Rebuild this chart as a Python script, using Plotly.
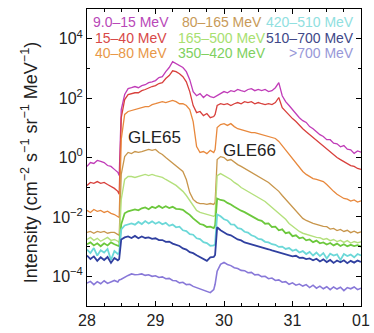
import plotly.graph_objects as go

# time in days (Oct 28 .. Nov 1, 2003)
t = [28.00, 28.05, 28.10, 28.15, 28.20, 28.25, 28.30, 28.35, 28.40, 28.45, 28.47,
     28.50, 28.55, 28.60, 28.65, 28.70, 28.75, 28.80, 28.85, 28.90, 28.95,
     29.00, 29.05, 29.10, 29.15, 29.20, 29.25, 29.30, 29.35, 29.40, 29.45,
     29.50, 29.55, 29.60, 29.65, 29.70, 29.75, 29.80, 29.85, 29.87,
     29.90, 29.95, 30.00, 30.05, 30.10, 30.15, 30.20, 30.25, 30.30, 30.35,
     30.40, 30.45, 30.50, 30.55, 30.60, 30.65, 30.70, 30.75, 30.80, 30.85,
     30.90, 30.95, 31.00, 31.05, 31.10, 31.15, 31.20, 31.25, 31.30, 31.35,
     31.40, 31.45, 31.50, 31.55, 31.60, 31.65, 31.70, 31.75, 31.80, 31.85,
     31.90, 31.95, 32.00]

# log10 of intensity (cm^-2 s^-1 sr^-1 MeV^-1)
log_9_15 = [-0.30, -0.17, -0.20, -0.10, -0.13, -0.17, -0.27, -0.30, -0.40, -0.50, -0.61,
            1.61, 2.12, 2.32, 2.35, 2.39, 2.35, 2.42, 2.45, 2.52, 2.55,
            2.59, 2.69, 2.72, 2.89, 3.03, 3.23, 3.16, 3.09, 3.03, 2.89,
            2.62, 2.22, 2.08, 2.15, 2.02, 2.12, 2.05, 2.02, 2.05,
            2.08, 2.15, 2.22, 2.18, 2.25, 2.22, 2.29, 2.25, 2.22, 2.29,
            2.32, 2.25, 2.29, 2.25, 2.29, 2.22, 2.25, 2.35, 2.52, 2.08,
            1.88, 1.75, 1.61, 1.48, 1.34, 1.24, 1.18, 1.04, 0.97, 0.87,
            0.77, 0.71, 0.60, 0.60, 0.48, 0.46, 0.36, 0.40, 0.28, 0.26,
            0.14, 0.22, 0.18]
log_15_40 = [-0.94, -0.84, -0.87, -0.81, -0.87, -0.84, -0.91, -0.97, -1.04, -1.14, -1.24,
             1.34, 1.95, 2.12, 2.15, 2.18, 2.18, 2.25, 2.29, 2.35, 2.39,
             2.42, 2.49, 2.52, 2.66, 2.76, 2.92, 2.89, 2.82, 2.72, 2.55,
             2.22, 1.75, 1.51, 1.55, 1.41, 1.48, 1.34, 1.38, 1.45,
             1.75, 1.81, 1.78, 1.81, 1.75, 1.81, 1.85, 1.81, 1.88, 1.85,
             1.88, 1.81, 1.85, 1.81, 1.78, 1.81, 1.78, 1.85, 2.02, 1.68,
             1.55, 1.41, 1.31, 1.21, 1.08, 0.97, 0.87, 0.77, 0.67, 0.57,
             0.47, 0.37, 0.27, 0.17, 0.07, 0.00, -0.07, -0.13, -0.20, -0.27,
             -0.30, -0.37, -0.40]
log_40_80 = [-1.78, -1.85, -1.75, -1.81, -1.78, -1.85, -1.81, -1.88, -1.92, -1.98, -2.02,
             0.61, 1.45, 1.55, 1.58, 1.61, 1.65, 1.68, 1.71, 1.71, 1.78,
             1.81, 1.85, 1.88, 1.85, 1.88, 1.92, 1.88, 1.81, 1.81, 1.75,
             1.61, 1.21, 0.37, 0.17, 0.20, 0.13, 0.24, 0.17, 0.27,
             1.01, 1.11, 1.14, 1.08, 1.14, 1.04, 0.97, 0.94, 0.91, 0.87,
             0.84, 0.84, 0.81, 0.77, 0.74, 0.71, 0.67, 0.64, 0.54, 0.40,
             0.24, 0.10, -0.03, -0.17, -0.34, -0.47, -0.57, -0.64, -0.71, -0.74,
             -0.77, -0.81, -0.91, -1.04, -1.14, -1.24, -1.31, -1.38, -1.40, -1.47,
             -1.43, -1.50, -1.46]
log_80_165 = [-2.52, -2.49, -2.55, -2.49, -2.52, -2.49, -2.55, -2.52, -2.52, -2.59, -2.62,
              -0.57, 0.03, 0.17, 0.13, 0.20, 0.17, 0.20, 0.24, 0.27, 0.24,
              0.27, 0.17, 0.10, 0.00, -0.10, -0.17, -0.27, -0.37, -0.47, -0.74,
              -1.18, -1.41, -1.51, -1.55, -1.55, -1.58, -1.55, -1.58, -1.51,
              -0.07, 0.03, 0.00, -0.10, -0.07, -0.17, -0.24, -0.30, -0.37, -0.44,
              -0.50, -0.57, -0.64, -0.71, -0.77, -0.84, -0.94, -1.04, -1.14, -1.28,
              -1.41, -1.55, -1.68, -1.81, -1.95, -2.05, -2.12, -2.18, -2.22, -2.25,
              -2.29, -2.32, -2.33, -2.41, -2.39, -2.46, -2.42, -2.49, -2.45, -2.53,
              -2.48, -2.54, -2.50]
log_165_500 = [-2.76, -2.69, -2.79, -2.72, -2.82, -2.76, -2.69, -2.79, -2.76, -2.82, -2.86,
               -1.41, -0.74, -0.64, -0.64, -0.67, -0.64, -0.61, -0.57, -0.61, -0.57,
               -0.61, -0.64, -0.67, -0.74, -0.81, -0.87, -0.94, -1.04, -1.14, -1.28,
               -1.45, -1.65, -1.78, -1.85, -1.88, -1.92, -1.95, -1.98, -1.95,
               -0.61, -0.54, -0.61, -0.67, -0.74, -0.84, -0.91, -1.01, -1.08, -1.14,
               -1.21, -1.28, -1.34, -1.41, -1.48, -1.58, -1.68, -1.78, -1.88, -1.98,
               -2.08, -2.22, -2.32, -2.42, -2.49, -2.55, -2.59, -2.62, -2.66, -2.69,
               -2.70, -2.76, -2.73, -2.80, -2.76, -2.83, -2.79, -2.86, -2.80, -2.88,
               -2.83, -2.87, -2.84]
log_350_420 = [-2.92, -2.86, -2.96, -2.89, -2.99, -2.89, -2.96, -2.86, -2.92, -2.96, -2.99,
               -2.25, -1.88, -1.81, -1.78, -1.75, -1.78, -1.71, -1.68, -1.74, -1.66,
               -1.70, -1.63, -1.70, -1.64, -1.70, -1.66, -1.73, -1.74, -1.76, -1.85,
               -1.93, -2.05, -2.14, -2.24, -2.27, -2.34, -2.33, -2.38, -2.29,
               -1.38, -1.43, -1.45, -1.53, -1.58, -1.66, -1.73, -1.79, -1.84, -1.90,
               -1.98, -2.03, -2.10, -2.13, -2.23, -2.22, -2.34, -2.33, -2.45, -2.42,
               -2.55, -2.52, -2.65, -2.62, -2.72, -2.69, -2.79, -2.76, -2.85, -2.80,
               -2.89, -2.86, -2.93, -2.88, -2.96, -2.90, -2.98, -2.92, -2.99, -2.94,
               -2.98, -2.95, -3.00]
log_420_510 = [-3.10, -3.22, -3.05, -3.30, -3.12, -3.20, -3.08, -3.45, -3.15, -3.25, -3.20,
               -2.42, -2.29, -2.25, -2.22, -2.26, -2.17, -2.24, -2.14, -2.22, -2.15,
               -2.23, -2.17, -2.25, -2.20, -2.30, -2.26, -2.35, -2.33, -2.45, -2.48,
               -2.58, -2.60, -2.72, -2.75, -2.85, -2.88, -2.97, -2.96, -2.92,
               -1.92, -1.98, -2.08, -2.12, -2.25, -2.26, -2.38, -2.40, -2.50, -2.53,
               -2.62, -2.66, -2.74, -2.76, -2.84, -2.86, -2.92, -2.94, -3.01, -3.00,
               -3.08, -3.05, -3.14, -3.10, -3.20, -3.15, -3.25, -3.18, -3.30, -3.20,
               -3.32, -3.22, -3.40, -3.24, -3.30, -3.26, -3.45, -3.25, -3.32, -3.27,
               -3.36, -3.25, -3.30]
log_510_700 = [-3.30, -3.42, -3.33, -3.48, -3.36, -3.45, -3.35, -3.55, -3.38, -3.46, -3.42,
               -2.76, -2.69, -2.66, -2.71, -2.64, -2.72, -2.66, -2.71, -2.69, -2.74,
               -2.72, -2.78, -2.78, -2.84, -2.83, -2.90, -2.94, -2.98, -3.06, -3.10,
               -3.19, -3.22, -3.29, -3.35, -3.43, -3.48, -3.36, -3.35, -3.28,
               -2.35, -2.45, -2.52, -2.59, -2.62, -2.69, -2.76, -2.79, -2.86, -2.89,
               -2.92, -2.96, -2.99, -3.03, -3.06, -3.09, -3.13, -3.16, -3.19, -3.23,
               -3.26, -3.29, -3.33, -3.31, -3.38, -3.37, -3.42, -3.40, -3.46, -3.41,
               -3.50, -3.43, -3.52, -3.45, -3.55, -3.47, -3.53, -3.46, -3.56, -3.48,
               -3.54, -3.47, -3.52]
log_700 = [-4.23, -4.17, -4.28, -4.18, -4.25, -4.15, -4.24, -4.19, -4.14, -4.19, -4.12,
           -4.10, -4.03, -3.97, -3.92, -3.95, -3.94, -3.92, -3.97, -3.95, -4.00,
           -3.98, -4.04, -4.02, -4.08, -4.07, -4.14, -4.15, -4.22, -4.20, -4.28,
           -4.27, -4.34, -4.38, -4.42, -4.48, -4.52, -4.55, -4.45, -4.27,
           -3.83, -3.60, -3.53, -3.60, -3.64, -3.71, -3.74, -3.80, -3.81, -3.88,
           -3.87, -3.95, -3.94, -4.01, -4.00, -4.08, -4.06, -4.14, -4.12, -4.20,
           -4.18, -4.27, -4.22, -4.30, -4.26, -4.33, -4.28, -4.38, -4.30, -4.40,
           -4.33, -4.42, -4.35, -4.45, -4.36, -4.43, -4.37, -4.48, -4.38, -4.42,
           -4.36, -4.45, -4.40]

labels = ["9.0\u201315 MeV", "15\u201340 MeV", "40\u201380 MeV",
          "80\u2013165 MeV", "165\u2013500 MeV", "350\u2013420 MeV",
          "420\u2013510 MeV", "510\u2013700 MeV", ">700 MeV"]
series = [log_9_15, log_15_40, log_40_80, log_80_165, log_165_500,
          log_350_420, log_420_510, log_510_700, log_700]
line_colors = ["#c03cb8", "#d8403c", "#e8883c", "#c8964c", "#b4e07c",
               "#6cc83c", "#6cd8d8", "#3040a0", "#8878d8"]
line_widths = [1.3, 1.3, 1.3, 1.3, 1.4, 1.8, 1.8, 1.8, 1.6]
text_colors = ["#b848b8", "#d84848", "#e89848", "#c89a58", "#a8e070",
               "#80d060", "#90e0e0", "#404888", "#9898d8"]

x_tickvals = [28, 29, 30, 31, 32]
x_ticktext = ["28", "29", "30", "31", "01"]
y_tickvals = [1e-4, 1e-2, 1, 1e2, 1e4]
y_ticktext = ["10<sup>\u22124</sup>", "10<sup>\u22122</sup>", "10<sup>0</sup>",
              "10<sup>2</sup>", "10<sup>4</sup>"]
y_minor = [1e-5, 1e-3, 1e-1, 1e1, 1e3, 1e5]

fig = go.Figure()
for name, vals, col, lw in zip(labels, series, line_colors, line_widths):
    fig.add_trace(go.Scatter(x=t, y=[10 ** v for v in vals], mode="lines",
                             name=name, line=dict(color=col, width=lw),
                             showlegend=False))

FONT = "Liberation Sans, Arial, sans-serif"
L, R, T, B = 87, 4, 9, 26
W, H = 374, 333
pw, ph = W - L - R, H - T - B

def px(xp):
    return (xp - L) / pw

def py(yp):
    return (H - B - yp) / ph

# legend as coloured text, three columns
cols = [(px(132.5), "center"), (px(226), "center"), (px(364), "right")]
rows = [py(22.5), py(38.5), py(53.5)]
for i, (lab, col) in enumerate(zip(labels, text_colors)):
    c, r = divmod(i, 3)
    xpos, anchor = cols[c]
    fig.add_annotation(x=xpos, y=rows[r], xref="paper", yref="paper",
                       text=lab, showarrow=False, xanchor=anchor, yanchor="middle",
                       borderpad=0,
                       font=dict(size=14, color=col, family=FONT))

fig.add_annotation(x=28.99, y=0.67, xref="x", yref="y", text="GLE65",
                   showarrow=False, font=dict(size=17, color="#222", family=FONT))
fig.add_annotation(x=30.37, y=0.235, xref="x", yref="y", text="GLE66",
                   showarrow=False, font=dict(size=17, color="#222", family=FONT))

fig.add_annotation(x=px(28), y=py(163), xref="paper", yref="paper",
                   text="Intensity (cm<sup>\u22122</sup> s<sup>\u22121</sup> sr<sup>\u22121</sup> MeV<sup>\u22121</sup>)",
                   textangle=-90, showarrow=False, xanchor="center", yanchor="middle",
                   font=dict(size=18, color="#222", family=FONT))

fig.update_xaxes(range=[28, 32], tickvals=x_tickvals, ticktext=x_ticktext,
                 ticks="inside", ticklen=5, tickcolor="black",
                 minor=dict(dtick=0.25, ticks="inside", ticklen=3, tickcolor="black"),
                 showline=True, linecolor="black", linewidth=1, mirror="ticks",
                 showgrid=False, zeroline=False, ticklabeloverflow="allow",
                 tickfont=dict(size=16, color="#222", family=FONT))
fig.update_yaxes(type="log", range=[-5, 5], tickvals=y_tickvals, ticktext=y_ticktext,
                 ticks="inside", ticklen=5, tickcolor="black",
                 minor=dict(tickvals=y_minor, ticks="inside", ticklen=3, tickcolor="black"),
                 showline=True, linecolor="black", linewidth=1, mirror="ticks",
                 showgrid=False, zeroline=False,
                 tickfont=dict(size=16, color="#222", family=FONT))

fig.update_layout(width=W, height=H, margin=dict(l=L, r=R, t=T, b=B),
                  paper_bgcolor="white", plot_bgcolor="white", showlegend=False)

fig.write_html("out.html")
